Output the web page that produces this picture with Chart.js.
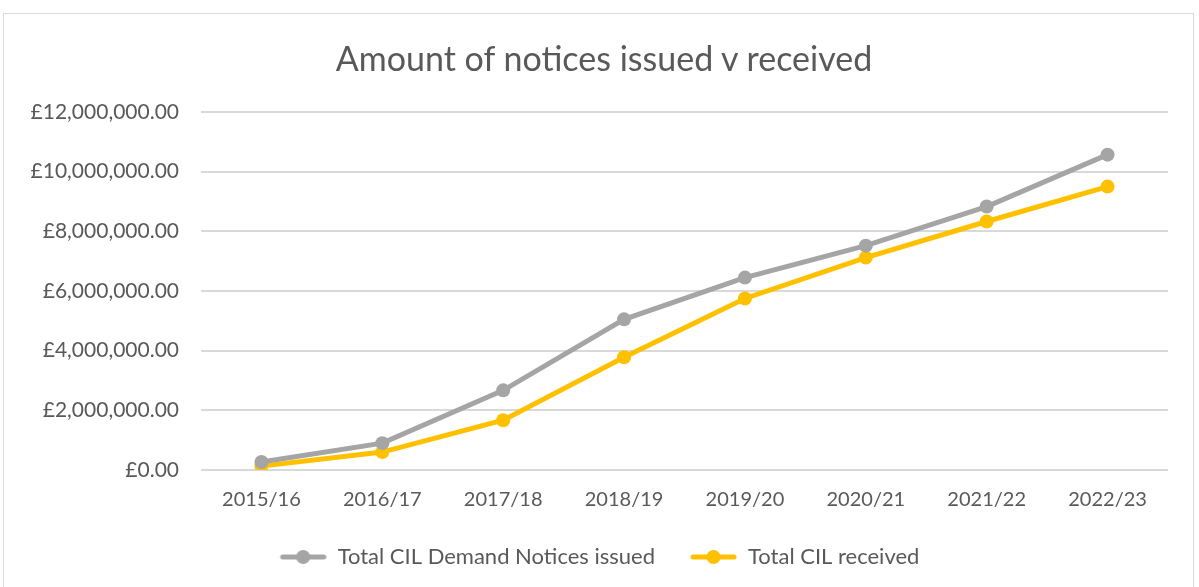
<!DOCTYPE html>
<html>
<head>
<meta charset="utf-8">
<script src="https://cdn.jsdelivr.net/npm/chart.js@4.4.0/dist/chart.umd.min.js"></script>
<style>
  body { margin: 0; background: #fff; }
  #wrap { position: absolute; left: 3px; top: 13px; width: 1191px; height: 580px; border: 1px solid #d9d9d9; box-sizing: border-box; }
  #chart { position: absolute; left: 0; top: 0; }
  #title { position: absolute; left: 0; top: 38px; width: 1208px; text-align: center; font: 34px Lato, "Open Sans", sans-serif; line-height: 40px; color: #595959; }
</style>
</head>
<body>
<div id="wrap"><canvas id="chart" width="1189" height="578"></canvas></div>
<div id="title">Amount of notices issued v received</div>
<script>
var years = ['2015/16', '2016/17', '2017/18', '2018/19', '2019/20', '2020/21', '2021/22', '2022/23'];
var issued = [270000, 900000, 2670000, 5050000, 6450000, 7520000, 8830000, 10570000];
var received = [130000, 600000, 1670000, 3780000, 5750000, 7120000, 8330000, 9500000];
var yTicks = [0, 2000000, 4000000, 6000000, 8000000, 10000000, 12000000];

var fontFamily = 'Lato, "Open Sans", sans-serif';

// line + dot legend marker, with empty space on the left to widen the gap between items
function legendMarker(colour) {
    var c = document.createElement('canvas');
    c.width = 66;
    c.height = 16;
    var g = c.getContext('2d');
    g.strokeStyle = colour;
    g.lineWidth = 5;
    g.lineCap = 'round';
    g.beginPath();
    g.moveTo(22, 8);
    g.lineTo(63, 8);
    g.stroke();
    g.fillStyle = colour;
    g.beginPath();
    g.arc(42.5, 8, 7, 0, Math.PI * 2);
    g.fill();
    return c;
}

function money(v) {
    return '£' + v.toLocaleString('en-GB', { minimumFractionDigits: 2, maximumFractionDigits: 2 });
}

var ctx = document.getElementById('chart');
var myChart = new Chart(ctx, {
    type: 'line',
    data: {
        labels: years,
        datasets: [{
            label: 'Total CIL Demand Notices issued',
            data: issued,
            borderColor: '#a5a5a5',
            backgroundColor: '#a5a5a5',
            borderWidth: 5,
            pointRadius: 7,
            pointBorderWidth: 0,
            pointStyle: 'circle',
            tension: 0
        }, {
            label: 'Total CIL received',
            data: received,
            borderColor: '#ffc000',
            backgroundColor: '#ffc000',
            borderWidth: 5,
            pointRadius: 7,
            pointBorderWidth: 0,
            pointStyle: 'circle',
            tension: 0
        }]
    },
    options: {
        responsive: false,
        animation: false,
        layout: { padding: { left: 8, right: 25, top: 98, bottom: 14 } },
        plugins: {
            title: { display: false },
            legend: {
                position: 'bottom',
                labels: {
                    color: '#595959',
                    font: { family: fontFamily, size: 22 },
                    usePointStyle: true,
                    pointStyleWidth: 66,
                    padding: 16,
                    generateLabels: function(chart) {
                        return chart.data.datasets.map(function(ds, i) {
                            return {
                                text: ds.label,
                                pointStyle: legendMarker(ds.borderColor),
                                fontColor: '#595959',
                                lineWidth: 0,
                                strokeStyle: 'transparent',
                                fillStyle: ds.borderColor,
                                datasetIndex: i
                            };
                        });
                    }
                }
            },
            tooltip: { enabled: false }
        },
        scales: {
            x: {
                offset: true,
                grid: { display: false, drawTicks: false },
                border: { display: false },
                ticks: { color: '#595959', font: { family: fontFamily, size: 20 }, padding: 18 }
            },
            y: {
                min: 0,
                max: 12000000,
                afterBuildTicks: function(axis) {
                    axis.ticks = yTicks.map(function(v) { return { value: v }; });
                },
                afterFit: function(axis) { axis.width = 189; },
                grid: { color: '#d9d9d9', lineWidth: 2, drawTicks: false },
                border: { display: false },
                ticks: {
                    color: '#595959',
                    font: { family: fontFamily, size: 21 },
                    padding: 22,
                    callback: function(v) { return money(v); }
                }
            }
        }
    }
});
</script>
</body>
</html>
